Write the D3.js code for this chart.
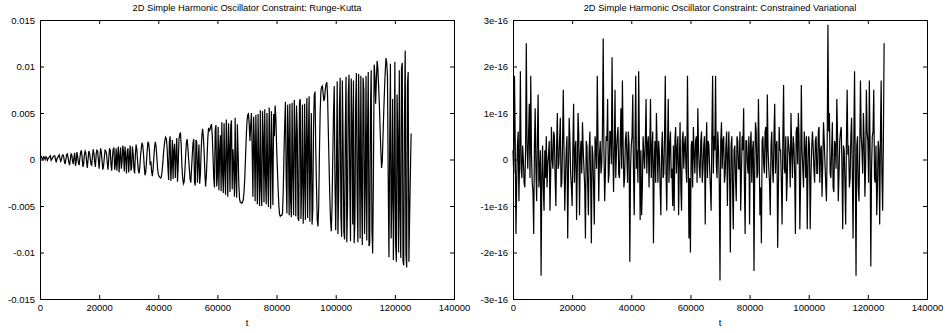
<!DOCTYPE html>
<html>
<head>
<meta charset="utf-8">
<script src="https://cdn.jsdelivr.net/npm/d3@7"></script>
<style>
  body { margin: 0; background: #fff; }
  text { font-family: "Liberation Sans", Arial, sans-serif; fill: #000; }
</style>
</head>
<body>
<div id="chart"></div>
<script>
// Runge-Kutta constraint, sampled every 250 t, in units of 1e-3
const rkStep = 250;
const rkUnit = 1e-3;
const rkValues = [
  0.1, 0.2, 0.3, 0.1, 0.0, 0.3, 0.2, 0.0, 0.3, 0.2, -0.1, 0.1, 0.2, 0.3, 0.4, -0.1, 0.0, 0.2, 0.3, 0.4,
  0.4, 0.0, -0.3, 0.1, 0.2, 0.4, 0.5, 0.1, -0.2, 0.0, 0.4, 0.5, 0.3, -0.2, -0.5, 0.0, 0.5, 0.6, 0.2, -0.3,
  -0.6, 0.0, 0.6, 0.5, -0.2, -0.5, 0.3, 0.7, -0.7, -0.2,
  0.8, 0.3, -0.4, -0.6, 0.2, 0.8, 1.0, 0.2, -0.8, -0.5, 0.5, 0.9, 0.7, -0.2, -0.9, 0.0, 0.9, 0.7, 0.1, -0.5,
  -0.6, 0.4, 1.1, 0.6, -0.3, -0.8, 0.6, 1.0, 0.9, -0.1, -1.0, 0.3, 1.2, 0.8, -0.2, -1.1, -0.7, 0.2, 1.0, 0.9,
  0.6, -0.4, -1.1, 0.1, 1.2, 1.0, -0.5, -1.2, 0.3, 1.1,
  1.3, -1.1, -0.5, 1.2, -1.2, 0.4, 1.4, -1.4, 0.3, 1.3, -1.0, -0.2, 1.5, 0.8, -1.3, 1.4, 0.2, -1.5, 0.9, 1.2,
  -1.4, 0.3, 1.5, -1.2, -0.8, 1.4, 0.6, -1.0, -1.5, 0.5, 1.6, 1.1, -0.2, -1.2, -1.5, -0.8, 0.4, 1.2, 1.8, 1.5,
  0.6, -0.7, -1.7, -1.4, -0.3, 0.9, 1.9, 1.7, 1.0, -0.6,
  -0.2, -1.3, -1.8, -1.0, 0.2, 1.3, 1.9, 1.4, 0.3, -0.9, -1.6, -1.8, -1.9, -2.0, -1.9, -1.4, -0.5, 0.6, 1.5, 2.1,
  2.4, 2.2, 1.2, -0.8, -2.2, 1.9, 2.5, -2.3, -0.6, 2.1, -2.1, 1.0, 1.7, -2.0, 0.4, 2.3, -2.4, -0.5, 2.2, 2.7,
  2.9, 1.5, -0.8, -2.0, -2.6, -2.4, -1.2, 0.4, 1.8, 2.2,
  1.3, 0.1, -1.0, -2.1, -2.5, -1.0, 0.5, 1.8, 2.2, -2.4, -2.8, 2.1, 1.9, -2.5, -0.6, 1.6, -2.6, -1.5, 1.0, 2.6,
  3.3, 2.4, 0.8, -1.4, -2.9, -1.8, 0.2, 2.3, 3.4, 3.1, 3.2, 3.6, 3.8, 2.6, 0.4, -2.0, -3.0, 3.2, 3.7, -2.9,
  -1.8, 3.5, -3.3, 0.9, 2.6, -3.4, 4.0, -1.5, -3.6, 3.9,
  -1.2, -3.8, 4.3, 0.6, -4.0, 3.9, 1.4, -3.5, 3.6, 4.2, -3.2, 1.1, -0.7, -4.0, 4.5, -2.0, -4.1, 3.8, 0.5, -2.8,
  -4.3, -4.6, -4.6, -4.7, -4.6, -4.3, -3.5, -2.0, 0.2, 2.5, 4.1, 4.8, 4.9, 3.8, 2.0, 3.7, 5.0, 1.0, -4.0, 4.6,
  1.6, -4.5, 4.8, 0.3, -4.8, 4.9, -1.0, -5.0, 5.3, -3.0,
  -5.0, 5.2, 2.4, -4.6, 5.4, -1.8, -4.8, 5.0, -1.5, -5.1, 5.6, 0.8, -5.3, 5.2, 0.6, -4.9, 4.9, 2.5, 5.8, 4.6,
  1.5, -0.8, -3.0, -4.8, -5.9, -6.1, -6.0, -6.0, -5.8, -3.5, 0.5, 3.8, 6.2, -2.0, -5.8, 5.9, 2.2, -6.0, 6.0, -4.5,
  -6.2, 6.1, -1.5, -6.0, 6.4, 2.5, -6.1, 5.8, 3.0, -6.3,
  -6.6, 6.2, 6.5, -6.4, -2.4, 5.9, -6.9, -3.0, 6.0, -6.5, 1.2, 6.6, -6.3, 2.0, 6.8, -6.7, -0.5, 5.0, -7.0, -5.5,
  3.5, 6.9, 7.3, 1.0, -3.0, -6.5, -7.2, -5.0, 0.8, 5.2, 7.4, 7.8, 7.9, 7.1, 6.3, 6.6, 7.6, 8.1, 8.3, 6.8,
  3.0, -0.6, -4.0, -6.5, -7.7, -5.2, 0.2, 4.8, 7.9, -2.5,
  -7.6, -1.0, 8.4, -8.0, -3.5, 5.5, 8.8, -6.0, -8.3, 8.5, 2.0, -7.8, -8.6, 3.5, 8.9, -8.9, -5.0, 7.0, 9.1, -2.5,
  -8.8, 8.7, 4.2, -7.0, 8.5, -9.0, -6.5, 6.0, 9.3, -4.0, -8.9, 9.2, 1.5, -8.5, 9.0, -3.5, -9.2, 8.8, 7.5, -8.0,
  -3.0, 9.0, -8.7, 2.5, 9.4, -9.3, -9.0, 5.0, 9.6, -7.5,
  -10.1, -2.0, 10.2, 9.0, 6.0, 8.5, 10.6, 9.8, 8.0, 6.0, 3.5, 1.0, -0.9, -0.2, 2.5, 5.2, 7.5, 9.5, 10.9, 10.4,
  9.0, -2.0, -10.5, 1.5, 10.3, -8.5, -4.0, 6.5, -10.8, -3.0, 10.5, -9.0, -11.0, 7.0, 2.5, -10.0, 9.6, -5.5, -10.6, 9.8,
  10.4, -10.9, -11.4, 4.5, 11.7, -10.2, -11.6, 8.0, 9.4, -11.0, -6.1, -1.5, 2.8
];

// Constrained variational constraint, sampled every 250 t, in units of 1e-17
const cvStep = 250;
const cvUnit = 1e-17;
const cvValues = [
  2, -3, 18, 4, -16, -5, 3, 6, -9, 1, 19, -2, -4, 3, 0, -5, -6, 2, 25, 3,
  -2, 5, 12, -4, 18, 1, -5, -7, -16, 3, 11, -2, -9, 5, 14, -6, -3, 2, -25, -4,
  3, -6, -11, 2, -4, 5, -6, -1, 1, 4, -11, -3, 7, 0, -2, 6, 5, -4, -10, 3,
  10, -2, -1, 4, 9, -6, -5, 3, 15, 2, -11, -4, 2, 5, -17, -3, 9, 4, -3, -6,
  -10, 3, 12, -5, 2, 4, -13, -2, 10, 5, -12, 1, 4, -3, 8, 2, -2, -6, -17, 4,
  3, -5, -12, 2, 6, -4, -18, 3, 1, -6, -14, 5, 3, -2, 18, 4, -9, 1, 4, -3,
  -1, 6, 26, 2, -9, -3, 5, 4, 13, -5, -3, 6, 6, -1, 22, 3, -7, 2, 15, -4,
  2, 5, 7, -3, -4, 4, 11, -2, 17, 3, -6, -4, 4, 6, 1, -5, 6, 3, -22, -2,
  3, 5, 14, -3, -12, 4, 18, -2, 2, -5, 19, 3, -13, 2, -12, -6, 5, 1, -2, 4,
  13, -3, 3, 5, -6, 2, 13, -4, 2, 6, -18, -1, 4, -5, 10, 3, -5, 4, 1, -6,
  -12, 2, 6, -4, -3, 5, 18, -3, -11, 2, 13, -5, 3, 6, -4, -2, -10, 3, -11, 4,
  7, -3, 2, 5, -12, -1, 8, -6, -11, 4, 6, -2, 3, 5, -2, -5, 18, 2, -17, -4,
  -20, 3, 4, -6, 7, 1, -3, 4, 5, -5, 11, 2, -2, -4, 4, 6, -5, -2, 3, 5,
  -14, 2, 8, -4, 4, 3, -2, -6, -11, 5, 18, -3, 5, 2, 18, -1, -4, 6, 2, -5,
  -26, 4, 8, -2, 4, 5, -5, -3, 3, 6, -10, 1, 6, -4, -20, 3, 5, -6, -15, 2,
  3, -4, -9, 5, 4, -2, -2, 6, -11, -3, 5, 2, 11, -5, -16, 4, 4, -1, -3, 5,
  -14, 3, 6, -5, 2, 4, -24, -2, 8, 6, -4, -3, 13, 2, -12, -6, -18, 4, 5, -1,
  -3, 6, 7, -4, 14, 2, -2, -5, -12, 3, 6, -2, -5, 5, 12, -3, 3, 4, -19, -6,
  7, 2, 2, -5, -14, 4, 16, -2, -3, 5, -9, -4, 5, 3, 1, -6, 10, 2, -4, 5,
  3, -3, -16, 6, 7, -1, 10, 4, -15, -5, 16, 2, -2, -6, 6, 3, -4, 5, -15, -2,
  5, 3, -15, -4, 2, 6, 3, -2, -5, 4, 5, -3, -3, 6, 7, -5, 2, 3, -8, -1,
  8, 4, -1, -5, -9, 3, 29, 6, 10, -3, -4, 2, 8, -6, -7, 4, 3, -2, 13, 5,
  -9, -3, 4, 6, 7, -2, -15, 3, 2, -5, -14, 4, 15, 1, 3, -6, -4, 5, 9, -3,
  -17, 4, 19, -2, -25, 3, 5, -6, -9, 2, 17, 5, 2, -3, 10, 4, -8, -1, 15, 6,
  4, -5, 17, 3, -23, -2, 5, 6, 15, -4, -5, 3, -12, -6, 4, 2, -14, 5, 17, -3,
  -11, 4, 25
];

const xTicks = [0, 20000, 40000, 60000, 80000, 100000, 120000, 140000];
const rkTicks = [-0.015, -0.01, -0.005, 0, 0.005, 0.01, 0.015];
const rkTickLabels = ["-0.015", "-0.01", "-0.005", "0", "0.005", "0.01", "0.015"];
const cvTicks = [-3e-16, -2e-16, -1e-16, 0, 1e-16, 2e-16, 3e-16];
const cvTickLabels = ["-3e-16", "-2e-16", "-1e-16", "0", "1e-16", "2e-16", "3e-16"];

const width = 945;
const height = 333;

const svg = d3.select("#chart")
  .append("svg")
  .attr("width", width)
  .attr("height", height);

function drawPanel(opts) {
  const top = 20, bottom = 299;
  const x = d3.scaleLinear().domain([0, 140000]).range([opts.left, opts.right]);
  const y = d3.scaleLinear().domain([opts.ticks[0], opts.ticks[opts.ticks.length - 1]]).range([bottom, top]);

  const g = svg.append("g");

  // the curve
  const line = d3.line()
    .x((d, i) => x(i * opts.step))
    .y(d => y(d * opts.unit));
  g.append("path")
    .datum(opts.values)
    .attr("d", line)
    .attr("fill", "none")
    .attr("stroke", "#000")
    .attr("stroke-width", 1.2);

  // axes with inward ticks on all four sides
  const fmt = d => opts.labels[opts.ticks.indexOf(d)];
  const axes = [
    [d3.axisBottom(x).tickValues(xTicks).tickFormat(d3.format("d")), `translate(0,${bottom})`],
    [d3.axisTop(x).tickValues(xTicks).tickFormat(""), `translate(0,${top})`],
    [d3.axisLeft(y).tickValues(opts.ticks).tickFormat(fmt), `translate(${opts.left},0)`],
    [d3.axisRight(y).tickValues(opts.ticks).tickFormat(""), `translate(${opts.right},0)`]
  ];
  axes.forEach(([ax, tr]) => {
    const a = g.append("g")
      .attr("transform", tr)
      .call(ax.tickSizeInner(-4).tickSizeOuter(0).tickPadding(5));
    a.select(".domain").remove();
    a.selectAll("line").attr("stroke", "#000");
    a.selectAll("text")
      .attr("fill", "#000")
      .style("font-family", "'Liberation Sans', Arial, sans-serif")
      .style("font-size", "9.5px");
  });

  // frame
  g.append("rect")
    .attr("x", opts.left + 0.5)
    .attr("y", top + 0.5)
    .attr("width", opts.right - opts.left)
    .attr("height", bottom - top)
    .attr("fill", "none")
    .attr("stroke", "#000")
    .attr("stroke-width", 1);

  // title and x label
  g.append("text")
    .attr("x", (opts.left + opts.right) / 2)
    .attr("y", 11)
    .attr("text-anchor", "middle")
    .attr("fill", "#000")
    .style("font-size", "9.3px")
    .text(opts.title);

  g.append("text")
    .attr("x", (opts.left + opts.right) / 2)
    .attr("y", 326)
    .attr("text-anchor", "middle")
    .attr("fill", "#000")
    .style("font-size", "9.5px")
    .text("t");
}

drawPanel({
  left: 40, right: 454,
  values: rkValues, unit: rkUnit, step: rkStep,
  ticks: rkTicks, labels: rkTickLabels,
  title: "2D Simple Harmonic Oscillator Constraint: Runge-Kutta"
});

drawPanel({
  left: 513, right: 927,
  values: cvValues, unit: cvUnit, step: cvStep,
  ticks: cvTicks, labels: cvTickLabels,
  title: "2D Simple Harmonic Oscillator Constraint: Constrained Variational"
});
</script>
</body>
</html>
